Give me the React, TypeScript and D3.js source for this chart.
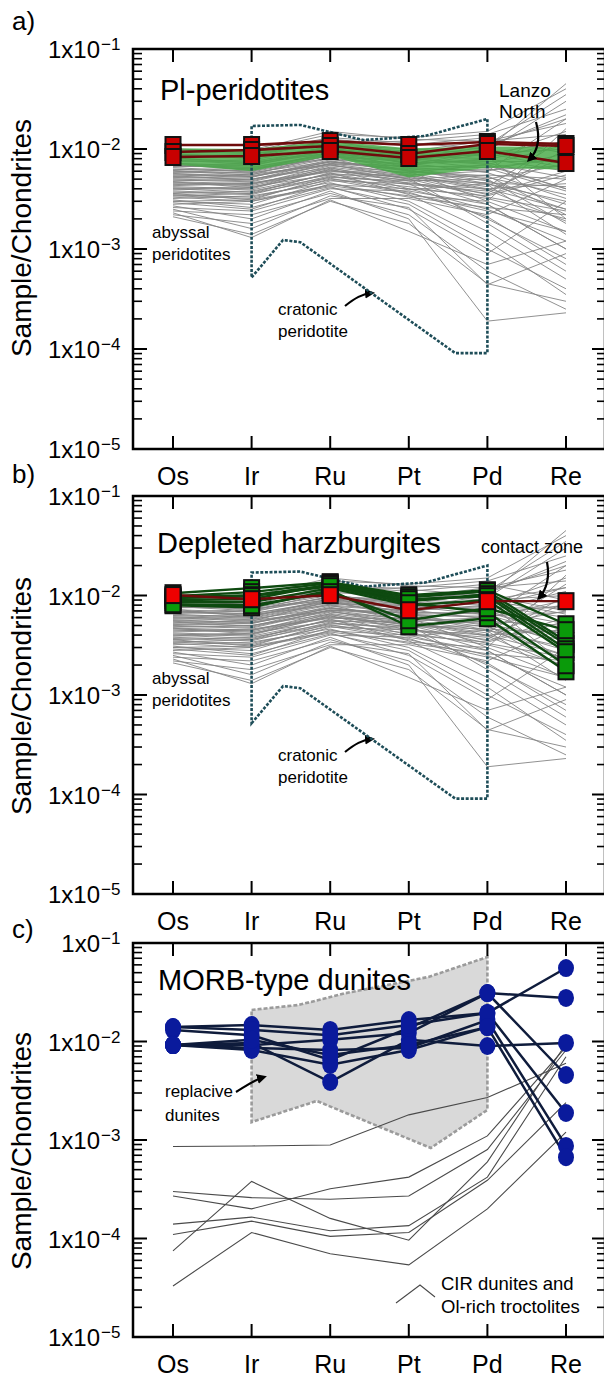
import * as d3 from "d3";

const W = 604;
const H = 1377;
const FONT = "'Liberation Sans', Arial, Helvetica, sans-serif";

const elements = ["Os", "Ir", "Ru", "Pt", "Pd", "Re"];
const decadeTicks = [1e-1, 1e-2, 1e-3, 1e-4, 1e-5];
const decadeExponents = ["−1", "−2", "−3", "−4", "−5"];

// abyssal peridotites (grey field, panels a and b), values x10^-3
const abyssalLines = [
  [9.5, 9.0, 11, 10, 9, 12],
  [8.8, 8.5, 12, 9, 11, 20],
  [8.0, 7.5, 10, 8.5, 8, 6],
  [7.5, 7.8, 10.5, 7, 9.5, 30],
  [7.0, 6.5, 9, 8, 7, 4],
  [6.8, 7.2, 9.5, 6.5, 6, 9],
  [6.5, 6.0, 8.5, 7.5, 10, 45],
  [6.2, 6.4, 8, 5.5, 4, 2.5],
  [6.0, 5.5, 8.8, 6.8, 6.5, 8],
  [5.8, 5.8, 7.5, 6, 3, 1.5],
  [5.5, 5.2, 7.8, 7, 8, 15],
  [5.3, 5.6, 7, 5, 5.5, 5],
  [5.0, 4.8, 7.2, 6.2, 4.5, 3],
  [4.8, 5.0, 6.5, 4.5, 2, 0.8],
  [4.6, 4.4, 6.8, 5.8, 7, 11],
  [4.4, 4.6, 6, 5.2, 3.5, 6],
  [4.2, 4.0, 6.3, 4, 2.5, 1.2],
  [4.0, 4.2, 5.5, 5.5, 6, 20],
  [3.8, 3.6, 5.8, 3.5, 1.5, 0.5],
  [3.6, 3.8, 5.2, 4.8, 5, 7],
  [3.4, 3.2, 5, 4.2, 3.2, 2],
  [3.2, 3.4, 4.6, 3, 1.2, 0.35],
  [3.0, 2.8, 4.8, 4.5, 4, 4.5],
  [2.8, 3.0, 4.2, 2.5, 0.9, 3],
  [2.6, 2.4, 4, 3.8, 2.8, 1],
  [2.4, 2.2, 3.6, 2.2, 0.6, 0.25],
  [2.2, 1.8, 3.2, 3.2, 2.2, 5],
  [2.1, 1.4, 3, 1.8, 0.45, 0.3],
  [9.0, 8.0, 12.5, 11, 13, 9],
  [8.5, 8.8, 11.5, 12, 14, 25],
  [7.8, 7.0, 10.8, 9.5, 12, 14],
  [7.2, 6.8, 9.8, 9, 8.5, 2],
  [6.6, 7.0, 9.2, 8.8, 11, 35],
  [6.3, 5.9, 8.2, 7.8, 9, 10],
  [5.9, 6.2, 8.6, 6.4, 5, 1.8],
  [5.6, 5.4, 7.4, 6.6, 6.8, 4],
  [5.2, 5.0, 6.9, 5.4, 4.2, 13],
  [4.9, 4.7, 7.1, 6.8, 9, 6.5],
  [4.5, 4.3, 6.2, 4.8, 2.8, 1],
  [4.3, 4.5, 5.9, 5.9, 5.2, 3.5],
  [4.1, 3.9, 5.6, 4.4, 3.8, 8.5],
  [3.9, 4.1, 6.1, 5.1, 1.8, 0.6],
  [3.7, 3.5, 5.4, 3.9, 4.5, 2.5],
  [3.5, 3.3, 4.9, 3.6, 2.4, 1.5],
  [3.3, 3.0, 4.4, 4, 3.4, 5.5],
  [3.1, 2.6, 4.1, 2.8, 1, 0.4],
  [2.9, 2.5, 4.5, 3.3, 2.6, 2.2],
  [2.7, 2.0, 3.8, 2, 0.19, 0.23],
  [2.5, 1.6, 3.4, 2.6, 0.44, 0.9],
  [2.3, 1.3, 3.1, 1.5, 0.7, 1.2],
  [10, 9.5, 14, 13, 15, 40],
  [9.2, 9.8, 15, 12.5, 12, 18],
  [8.2, 7.2, 9.6, 7.2, 5.8, 3.2],
  [6.9, 6.3, 8.9, 7.3, 7.5, 7.5],
  [5.4, 4.9, 7.6, 6.1, 4.8, 2.8],
  [4.7, 4.1, 6.6, 5.3, 3.9, 1.9],
  [3.6, 3.1, 5.3, 4.6, 3.6, 10],
  [8.6, 8.2, 10.2, 8.0, 7.2, 5.2],
  [7.6, 7.4, 9.0, 7.8, 6.4, 3.8],
  [6.7, 6.6, 8.7, 6.0, 5.4, 2.2],
  [6.1, 5.7, 8.0, 7.1, 7.8, 12],
  [5.7, 5.3, 7.1, 5.7, 4.4, 1.4],
  [5.1, 5.3, 7.4, 6.3, 6.2, 6.8],
  [4.7, 4.5, 6.4, 5.0, 3.3, 2.4],
  [4.0, 3.7, 5.7, 4.9, 4.6, 4.2],
  [3.4, 3.6, 5.1, 3.7, 2.1, 0.7],
  [3.0, 3.1, 4.3, 3.4, 3.0, 16],
  [7.3, 6.1, 9.3, 8.2, 10.5, 22],
  [9.8, 9.2, 13, 11.5, 10, 7],
];

// Pl-peridotite field (green band, panel a), x10^-3
const plFieldUpper = [10.2, 10.0, 12.0, 10.2, 10.6, 10.5];
const plFieldLower = [7.0, 6.0, 8.5, 5.2, 6.5, 6.2];

// Lanzo North Pl-peridotites (red squares, panel a)
const lanzoNorth = [
  [0.01096, 0.01096, 0.0120, 0.01096, 0.01175, 0.01122],
  [0.00933, 0.00977, 0.01072, 0.00891, 0.01122, 0.01072],
  [0.00832, 0.00851, 0.00955, 0.00813, 0.00955, 0.00724],
];

// cratonic peridotite envelope: element position (0 = Os) and value
const cratonicPos = [1, 1.4, 1.62, 3.59, 4, 4, 3.21, 2.42, 1.62, 1];
const cratonicVal = [5.2e-4, 1.23e-3, 1.17e-3, 9.1e-5, 9.1e-5, 2.0e-2, 1.35e-2, 1.23e-2, 1.74e-2, 1.7e-2];

// depleted harzburgites (green squares, panel b)
const harzburgites = [
  [0.01055, 0.01186, 0.01362, 0.01007, 0.0113, 0.00514],
  [0.00984, 0.0108, 0.01331, 0.00962, 0.01105, 0.00347],
  [0.00962, 0.01007, 0.0127, 0.00877, 0.0103, 0.00324],
  [0.00798, 0.00762, 0.0113, 0.00491, 0.0059, 0.00173],
  [0.00898, 0.00918, 0.013, 0.00918, 0.00984, 0.00288],
  [0.00857, 0.00857, 0.01186, 0.00798, 0.00898, 0.00269],
  [0.0094, 0.00984, 0.0124, 0.00836, 0.00679, 0.00199],
  [0.00817, 0.00798, 0.0108, 0.00564, 0.00745, 0.00448],
];
// contact zone sample (red square, panel b)
const contactZone = [0.0101, 0.00918, 0.01007, 0.00711, 0.00877, 0.00877];

// MORB-type dunites (blue circles, panel c)
const morbDunites: (number | null)[][] = [
  [0.014, 0.0147, 0.0131, 0.0165, 0.0195, 0.0557],
  [0.0092, 0.0092, 0.0104, 0.0122, 0.031, 0.0277],
  [0.0092, 0.00966, 0.00388, 0.0104, 0.009, 0.00966],
  [0.0131, 0.0116, 0.0065, 0.0137, 0.031, 0.00457],
  [0.0092, 0.0086, 0.0082, 0.0086, 0.0165, 0.00087],
  [0.0092, 0.0082, 0.0058, 0.0082, 0.014, 0.00067],
  [0.014, 0.0131, 0.0116, 0.0147, 0.0195, 0.00188],
  [0.0092, 0.0104, 0.0073, 0.0092, 0.014, null],
];

// replacive dunites envelope (grey polygon, panel c)
const replacivePos = [1, 1.6, 2.2, 3.25, 4, 4, 3.28, 1.83, 1];
const replaciveVal = [0.0209, 0.0235, 0.031, 0.0452, 0.0721, 0.00202, 0.00083, 0.00249, 0.00152];

// CIR dunites and Ol-rich troctolites (thin lines, panel c)
const cirLines = [
  [8.6e-4, 8.7e-4, 8.9e-4, 1.8e-3, 2.7e-3, 6.0e-3],
  [3.0e-4, 2.6e-4, 2.5e-4, 2.7e-4, 8.0e-4, 8.2e-3],
  [2.7e-4, 2.0e-4, 3.2e-4, 4.2e-4, 1.1e-3, 8.8e-3],
  [7.5e-5, 3.8e-4, 1.6e-4, 9.6e-5, 6.0e-4, 9.5e-3],
  [1.4e-4, 1.65e-4, 1.2e-4, 1.35e-4, 4.2e-4, 7.0e-3],
  [1.1e-4, 1.5e-4, 1.05e-4, 1.15e-4, 3.9e-4, 2.4e-3],
  [3.3e-5, 1.15e-4, 7.0e-5, 5.4e-5, 2.0e-4, 1.2e-3],
];

const plotLeft = 133;
const plotRight = 605;
const xPos = d3.scaleLinear().domain([0, 5]).range([173, 566]);

type Scale = d3.ScaleLogarithmic<number, number>;

const makeY = (top: number, bottom: number): Scale =>
  d3.scaleLog().domain([1e-5, 1e-1]).range([bottom, top]);

const linePath = (y: Scale, vals: (number | null)[]) =>
  d3
    .line<[number, number | null]>()
    .defined((d) => d[1] != null)
    .x((d) => xPos(d[0]))
    .y((d) => y(d[1] as number))(vals.map((v, i) => [i, v])) as string;

const polyPath = (y: Scale, pos: number[], vals: number[]) =>
  (d3
    .line<number>()
    .x((_, i) => xPos(pos[i]))
    .y((d) => y(d))(vals) as string) + "Z";

const Axes = ({ top, bottom, y, topBase, letter, letterY, titleY }: any) => {
  const minors: number[] = [];
  for (let e = -5; e < -1; e++) for (let m = 2; m <= 9; m++) minors.push(m * Math.pow(10, e));
  return (
    <g>
      <rect x={plotLeft} y={top} width={plotRight - plotLeft} height={bottom - top} fill="none" stroke="#000" strokeWidth={2.5} />
      {minors.map((v) => (
        <g key={v}>
          <line x1={plotLeft} x2={plotLeft + 9} y1={y(v)} y2={y(v)} stroke="#000" strokeWidth={1.6} />
          <line x1={plotRight} x2={plotRight - 8} y1={y(v)} y2={y(v)} stroke="#000" strokeWidth={1.6} />
        </g>
      ))}
      {decadeTicks.map((v, i) => (
        <g key={v}>
          <line x1={plotLeft} x2={plotLeft + 14} y1={y(v)} y2={y(v)} stroke="#000" strokeWidth={2} />
          <line x1={plotRight} x2={plotRight - 13} y1={y(v)} y2={y(v)} stroke="#000" strokeWidth={2} />
          <text x={100} y={y(v) + 9} textAnchor="end" fontSize={24}>
            {i === 0 ? topBase : "1x10"}
          </text>
          <text x={101} y={y(v) + 1} fontSize={17}>
            {decadeExponents[i]}
          </text>
        </g>
      ))}
      {elements.map((el, i) => (
        <g key={el}>
          <line x1={xPos(i)} x2={xPos(i)} y1={top} y2={top + 13} stroke="#000" strokeWidth={2} />
          <line x1={xPos(i)} x2={xPos(i)} y1={bottom} y2={bottom - 13} stroke="#000" strokeWidth={2} />
          <text x={xPos(i)} y={bottom + 36} textAnchor="middle" fontSize={25}>
            {el}
          </text>
        </g>
      ))}
      <text x={12} y={letterY} fontSize={26}>
        {letter}
      </text>
      <text transform={`translate(31,${titleY}) rotate(-90)`} textAnchor="middle" fontSize={28}>
        Sample/Chondrites
      </text>
    </g>
  );
};

const Square = ({ x, y, fill }: { x: number; y: number; fill: string }) => (
  <rect x={x - 7.5} y={y - 8} width={15} height={16} fill={fill} stroke="#111" strokeWidth={2} />
);

const AbyssalAndCratonic = ({ y, dy }: { y: Scale; dy: number }) => (
  <g>
    {abyssalLines.map((row, i) => (
      <path key={i} d={linePath(y, row.map((v) => v / 1000))} fill="none" stroke="#858585" strokeWidth={0.9} />
    ))}
    <text x={152} y={238 + dy} fontSize={17}>abyssal</text>
    <text x={152} y={260 + dy} fontSize={17}>peridotites</text>
    <text x={278} y={315 + dy} fontSize={17}>cratonic</text>
    <text x={278} y={337 + dy} fontSize={17}>peridotite</text>
    <path d={`M345,${306 + dy} C355,${298 + dy} 362,${294 + dy} 372,${293 + dy}`} fill="none" stroke="#000" strokeWidth={2.2} markerEnd="url(#ah)" />
  </g>
);

const Cratonic = ({ y }: { y: Scale }) => (
  <path d={polyPath(y, cratonicPos, cratonicVal)} fill="none" stroke="#1e4d58" strokeWidth={2.6} strokeDasharray="3 1.6" />
);

export default function App() {
  const yA = makeY(49, 449);
  const yB = makeY(496, 894);
  const yC = makeY(943, 1337);

  const bandA =
    d3
      .area<number>()
      .x((_, i) => xPos(i))
      .y0((_, i) => yA(plFieldLower[i] / 1000))
      .y1((d) => yA(d / 1000))(plFieldUpper) as string;

  return (
    <svg width={W} height={H} style={{ position: "absolute", left: 0, top: 0 }} fontFamily={FONT}>
      <defs>
        <marker id="ah" viewBox="0 0 10 10" refX="7" refY="5" markerWidth="4.5" markerHeight="4.5" orient="auto">
          <path d="M0,0 L10,5 L0,10 z" fill="#000" />
        </marker>
      </defs>
      <rect width={W} height={H} fill="#fff" />

      {/* panel a */}
      <AbyssalAndCratonic y={yA} dy={0} />
      <path d={bandA} fill="#45a845" fillOpacity={0.82} />
      <Cratonic y={yA} />
      {lanzoNorth.map((row, i) => (
        <path key={i} d={linePath(yA, row)} fill="none" stroke="#6e0c0c" strokeWidth={2.6} />
      ))}
      {lanzoNorth.map((row, i) =>
        row.map((v, j) => <Square key={`${i}-${j}`} x={xPos(j)} y={yA(v)} fill="#c80000" />)
      )}
      <text x={160} y={100} fontSize={29}>Pl-peridotites</text>
      <text x={499} y={97} fontSize={19}>Lanzo</text>
      <text x={499} y={118} fontSize={19}>North</text>
      <path d="M536,122 C541,140 537,152 529,160" fill="none" stroke="#000" strokeWidth={2.2} markerEnd="url(#ah)" />
      <Axes top={49} bottom={449} y={yA} topBase="1x10" letter="a)" letterY={30} titleY={238} />

      {/* panel b */}
      <AbyssalAndCratonic y={yB} dy={446} />
      <Cratonic y={yB} />
      {harzburgites.map((row, i) => (
        <path key={i} d={linePath(yB, row)} fill="none" stroke="#0e4a10" strokeWidth={2.4} />
      ))}
      <path d={linePath(yB, contactZone)} fill="none" stroke="#6e0c0c" strokeWidth={2.4} />
      {harzburgites.map((row, i) =>
        row.map((v, j) => <Square key={`${i}-${j}`} x={xPos(j)} y={yB(v)} fill="#0a9a0a" />)
      )}
      {contactZone.map((v, j) => (
        <Square key={j} x={xPos(j)} y={yB(v)} fill="#ee0000" />
      ))}
      <text x={157} y={553} fontSize={29}>Depleted harzburgites</text>
      <text x={481} y={553} fontSize={18}>contact zone</text>
      <path d="M547,562 C550,578 546,590 539,598" fill="none" stroke="#000" strokeWidth={2.2} markerEnd="url(#ah)" />
      <Axes top={496} bottom={894} y={yB} topBase="1x10" letter="b)" letterY={483} titleY={696} />

      {/* panel c */}
      <path d={polyPath(yC, replacivePos, replaciveVal)} fill="#d9d9d9" stroke="#9b9b9b" strokeWidth={2.6} strokeDasharray="4 2" />
      {cirLines.map((row, i) => (
        <path key={i} d={linePath(yC, row)} fill="none" stroke="#4a4a4a" strokeWidth={1.1} />
      ))}
      {morbDunites.map((row, i) => (
        <path key={i} d={linePath(yC, row)} fill="none" stroke="#0f1c3c" strokeWidth={2.5} />
      ))}
      {morbDunites.map((row, i) =>
        row.map((v, j) =>
          v == null ? null : <ellipse key={`${i}-${j}`} cx={xPos(j)} cy={yC(v)} rx={8} ry={9} fill="#0a1a9c" />
        )
      )}
      <text x={158} y={990} fontSize={29}>MORB-type dunites</text>
      <text x={165} y={1097} fontSize={17}>replacive</text>
      <text x={165} y={1121} fontSize={17}>dunites</text>
      <path d="M236,1092 C246,1086 254,1080 264,1077" fill="none" stroke="#000" strokeWidth={2.2} markerEnd="url(#ah)" />
      <polyline points="396,1303 420,1285 435,1297" fill="none" stroke="#4a4a4a" strokeWidth={1.1} />
      <text x={441} y={1290} fontSize={18.5}>CIR dunites and</text>
      <text x={441} y={1313} fontSize={18.5}>Ol-rich troctolites</text>
      <Axes top={943} bottom={1337} y={yC} topBase="1x0" letter="c)" letterY={938} titleY={1151} />
    </svg>
  );
}
